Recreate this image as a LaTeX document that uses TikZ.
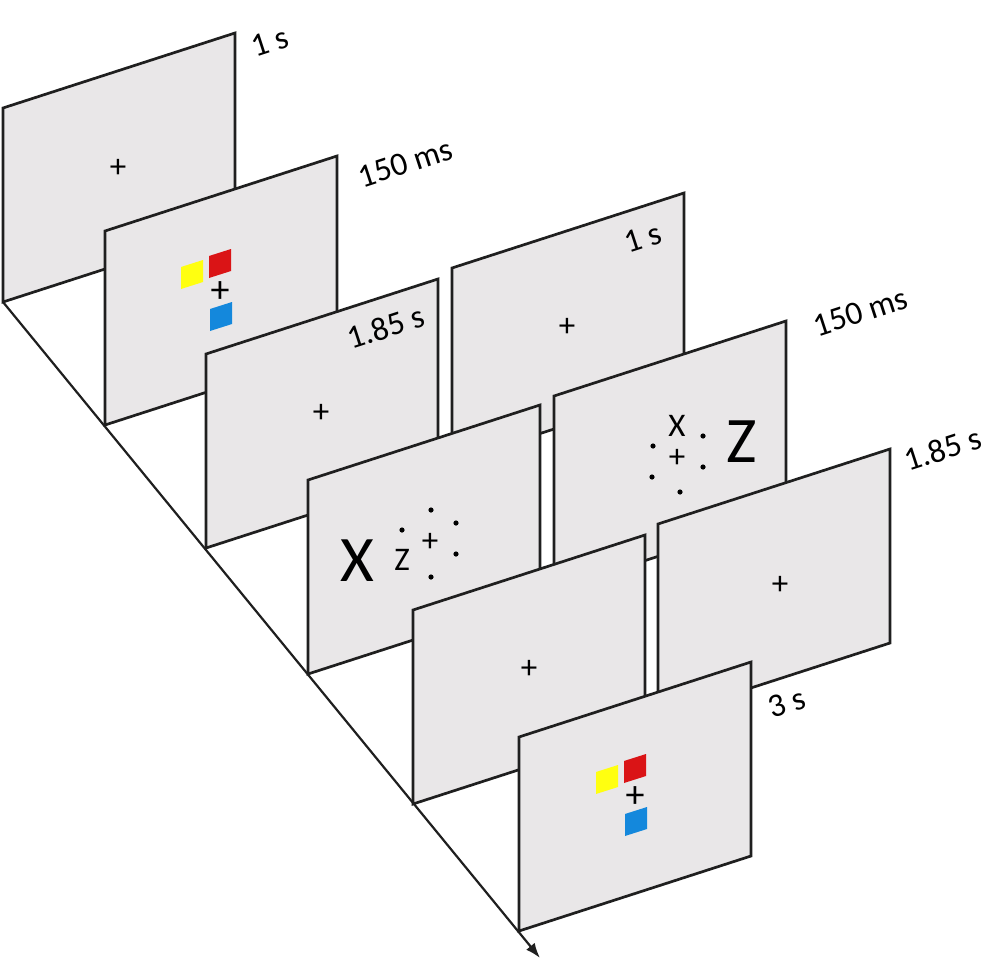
\documentclass[tikz,border=0pt]{standalone}
\usepackage{fontspec}
\setmainfont{Carlito}
\usetikzlibrary{arrows.meta, calc}

\definecolor{screengray}{RGB}{233,231,232}
\definecolor{cueyellow}{RGB}{255,255,16}
\definecolor{cuered}{RGB}{218,20,22}
\definecolor{cueblue}{RGB}{20,136,220}

% one display screen, named by its top left corner
\newcommand{\screenpanel}[3]{%
  \coordinate (#1) at (#2,#3);
  \draw[screen] (#1) -- ++(232,-75) -- ++(0,194) -- ++(-232,75) -- cycle;
}
% the three colour patches round a fixation cross
\newcommand{\cuearray}[1]{%
  \foreach \col/\dx/\dy in {cueyellow/-39/-3, cuered/-11/-14, cueblue/-10/39}
    \fill[\col] ($(#1)+(\dx,\dy)$) -- ++(22,-7) -- ++(0,-22) -- ++(-22,7) -- cycle;
}

\begin{document}
\begin{tikzpicture}[x=1pt, y=-1pt, >={Latex[length=15pt,width=11pt]},
    screen/.style={draw=black!88, line width=2.7pt, fill=screengray},
    timeline/.style={draw=black!88, line width=2.2pt},
    dur/.style={font=\fontsize{33}{36}\selectfont, rotate=18, inner sep=0pt},
    fixcross/.style={font=\fontsize{33}{36}\selectfont, inner sep=0pt},
    fixbold/.style={font=\fontsize{38}{40}\selectfont, inner sep=0pt},
    flank/.style={font=\fontsize{33}{36}\selectfont, inner sep=0pt},
    bigflank/.style={font=\fontsize{65}{70}\selectfont, inner sep=0pt},
    dot/.style={fill=black}]
    \useasboundingbox (0,0) rectangle (997,972);

    % first trial
    \screenpanel{fix1}{3}{108}
    \node[fixcross] (fix1c) at (118,168) {+};
    \node[dur] (dur1) at (270,42) {1 s};

    \screenpanel{cue1}{105}{231}
    \node[fixbold] (cue1c) at (220,292) {+};
    \cuearray{cue1c}
    \node[dur] (dur2) at (405,163) {150 ms};

    \screenpanel{isi1}{206}{354}
    \node[fixcross] (isi1c) at (321,413) {+};
    \node[dur] (dur3) at (386,327) {1.85 s};

    % second trial, starts behind
    \screenpanel{fix2}{452}{268}
    \node[fixcross] (fix2c) at (567,327) {+};
    \node[dur] (dur4) at (643,238) {1 s};

    \screenpanel{srch1}{308}{480}
    \node[fixcross] (srch1c) at (430,542) {+};
    \foreach \dx/\dy in {1/-32, 26/-19, 26/12, 1/35, -28/-12}
      \fill[dot] ($(srch1c)+(\dx,\dy)$) circle (2.6pt);
    \node[flank] (srch1in) at ($(srch1c)+(-28,18)$) {Z};
    \node[bigflank] (srch1out) at ($(srch1c)+(-73,19)$) {X};

    \screenpanel{srch2}{554}{396}
    \node[fixcross] (srch2c) at (677,458) {+};
    \foreach \dx/\dy in {-24/-12, -25/19, 3/34, 26/-22, 26/9}
      \fill[dot] ($(srch2c)+(\dx,\dy)$) circle (2.6pt);
    \node[flank] (srch2in) at ($(srch2c)+(0,-32)$) {X};
    \node[bigflank] (srch2out) at ($(srch2c)+(65,-16)$) {Z};
    \node[dur] (dur5) at (860,312) {150 ms};

    \screenpanel{isi2}{413}{610}
    \node[fixcross] (isi2c) at (529,669) {+};

    \screenpanel{isi3}{658}{524}
    \node[fixcross] (isi3c) at (780,585) {+};
    \node[dur] (dur6) at (943,449) {1.85 s};

    \screenpanel{cue2}{519}{737}
    \node[fixbold] (cue2c) at (635,797) {+};
    \cuearray{cue2c}
    \node[dur] (dur7) at (787,703) {3 s};

    % time axis
    \coordinate (tend) at (540,958);
    \draw[timeline, ->] ($(fix1)+(0,194)$) -- (tend);
\end{tikzpicture}
\end{document}
